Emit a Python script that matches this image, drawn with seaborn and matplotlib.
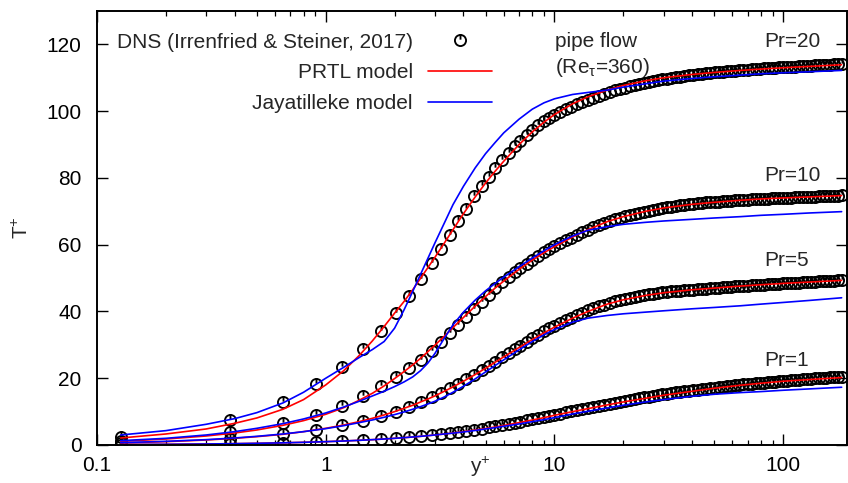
import numpy as np
import pandas as pd
import matplotlib
matplotlib.use("Agg")
import matplotlib.pyplot as plt
from matplotlib.path import Path
import seaborn as sns

# ---------------- data ----------------
YPLUS_DNS = [0.127, 0.38, 0.65, 0.91, 1.18, 1.46, 1.74, 2.02, 2.31, 2.6,
             2.9, 3.2, 3.5, 3.8, 4.1, 4.45, 4.8, 5.15, 5.5, 5.9,
             6.3, 6.7, 7.1, 7.55, 8.0, 8.5, 9.0, 9.5, 10.0, 10.6,
             11.2, 11.8, 12.5, 13.2, 14.0, 14.8, 15.6, 16.5, 17.4, 18.4,
             19.4, 20.4, 21.4, 22.4, 23.5, 24.6, 25.8, 27.0, 28.3, 29.6,
             31.0, 32.4, 33.9, 35.4, 37.0, 38.7, 40.4, 42.2, 44.1, 46.0,
             48.0, 50.1, 52.3, 54.5, 56.8, 59.2, 61.7, 64.3, 67.0, 69.8,
             72.7, 75.7, 78.8, 82.0, 85.4, 88.9, 92.5, 96.3, 100.2, 104.3,
             108.5, 112.9, 117.4, 122.1, 127.0, 132.1, 137.4, 142.9, 148.6, 154.5,
             160.6, 167.0, 173.6, 180.0]

DNS_PR20 = [2.5, 7.6, 12.9, 18.3, 23.4, 28.9, 34.1, 39.4, 44.6, 49.6,
            54.4, 58.8, 63.0, 67.0, 70.8, 74.5, 77.6, 80.4, 83.0, 85.5,
            87.6, 89.5, 91.2, 92.9, 94.4, 95.8, 97.0, 98.0, 98.9, 99.8,
            100.6, 101.3, 102.0, 102.7, 103.4, 104.0, 104.6, 105.2, 105.7, 106.2,
            106.6, 107.0, 107.4, 107.7, 108.0, 108.3, 108.6, 108.9, 109.2, 109.5,
            109.7, 109.9, 110.1, 110.3, 110.5, 110.7, 110.9, 111.0, 111.2, 111.3,
            111.5, 111.6, 111.7, 111.8, 111.9, 112.0, 112.1, 112.2, 112.3, 112.4,
            112.5, 112.6, 112.7, 112.8, 112.9, 112.9, 113.0, 113.1, 113.1, 113.2,
            113.3, 113.3, 113.4, 113.5, 113.5, 113.6, 113.7, 113.7, 113.8, 113.9,
            113.9, 114.0, 114.1, 114.1]

DNS_PR10 = [1.3, 3.8, 6.5, 9.1, 11.8, 14.8, 17.6, 20.3, 23.0, 25.6,
            28.3, 31.0, 33.6, 36.0, 38.2, 40.6, 42.8, 44.9, 47.0, 48.8,
            50.3, 51.7, 53.0, 54.3, 55.5, 56.7, 57.7, 58.6, 59.5, 60.4,
            61.3, 62.1, 62.9, 63.7, 64.5, 65.3, 65.9, 66.5, 67.1, 67.6,
            68.1, 68.5, 68.9, 69.2, 69.5, 69.8, 70.1, 70.4, 70.7, 71.0,
            71.2, 71.4, 71.6, 71.8, 72.0, 72.2, 72.3, 72.5, 72.6, 72.7,
            72.8, 72.9, 72.9, 73.0, 73.1, 73.2, 73.3, 73.3, 73.4, 73.5,
            73.6, 73.6, 73.7, 73.8, 73.8, 73.9, 73.9, 74.0, 74.0, 74.1,
            74.1, 74.2, 74.2, 74.3, 74.3, 74.4, 74.4, 74.5, 74.5, 74.6,
            74.6, 74.7, 74.7, 74.8]

DNS_PR5 = [0.64, 1.9, 3.25, 4.55, 5.9, 7.2, 8.6, 9.9, 11.5, 12.9,
           14.3, 15.7, 17.1, 18.4, 19.7, 21.1, 22.5, 23.8, 25.0, 26.3,
           27.5, 28.7, 29.8, 30.9, 32.0, 33.0, 34.0, 34.9, 35.7, 36.6,
           37.4, 38.1, 38.9, 39.6, 40.3, 40.9, 41.5, 42.0, 42.5, 43.0,
           43.4, 43.7, 44.0, 44.3, 44.6, 44.8, 45.1, 45.3, 45.5, 45.7,
           45.9, 46.0, 46.1, 46.2, 46.3, 46.4, 46.5, 46.6, 46.7, 46.8,
           46.9, 47.0, 47.1, 47.2, 47.3, 47.4, 47.5, 47.6, 47.6, 47.7,
           47.8, 47.9, 48.0, 48.0, 48.1, 48.2, 48.2, 48.3, 48.4, 48.4,
           48.5, 48.6, 48.6, 48.7, 48.8, 48.8, 48.9, 49.0, 49.0, 49.1,
           49.2, 49.2, 49.3, 49.4]

DNS_PR1 = [0.13, 0.38, 0.65, 0.91, 1.2, 1.5, 1.8, 2.1, 2.4, 2.7,
           3.0, 3.3, 3.6, 3.9, 4.2, 4.6, 4.9, 5.3, 5.6, 6.0,
           6.3, 6.7, 7.0, 7.4, 7.7, 8.1, 8.4, 8.8, 9.1, 9.4,
           9.8, 10.1, 10.4, 10.8, 11.1, 11.5, 11.8, 12.1, 12.4, 12.7,
           13.0, 13.3, 13.6, 13.8, 14.1, 14.3, 14.5, 14.8, 15.0, 15.2,
           15.4, 15.6, 15.8, 16.0, 16.1, 16.3, 16.5, 16.6, 16.8, 16.9,
           17.1, 17.2, 17.4, 17.5, 17.6, 17.8, 17.9, 18.0, 18.2, 18.3,
           18.4, 18.5, 18.6, 18.7, 18.8, 18.9, 19.0, 19.1, 19.2, 19.3,
           19.4, 19.5, 19.6, 19.7, 19.8, 19.9, 19.95, 20.0, 20.1, 20.2,
           20.25, 20.3, 20.4, 20.45]

YPLUS_MODEL = [0.127, 0.2, 0.3, 0.4, 0.5, 0.65, 0.8, 1.0, 1.2, 1.4,
               1.6, 1.8, 2.0, 2.2, 2.4, 2.6, 2.8, 3.0, 3.3, 3.6,
               4.0, 4.5, 5.0, 5.5, 6.0, 7.0, 8.0, 9.0, 10, 12,
               14, 17, 20, 25, 30, 40, 50, 65, 80, 100,
               130, 180]

PRTL_PR20 = [2.1, 3.3, 4.8, 6.5, 8.1, 10.7, 13.6, 18.0, 22.3, 26.8,
             31.2, 35.5, 39.5, 43.0, 46.5, 50.0, 53.2, 56.2, 60.5, 64.5,
             69.3, 74.3, 78.5, 82.0, 85.0, 90.0, 93.8, 96.7, 99.0, 102.2,
             104.3, 106.3, 107.7, 109.1, 110.0, 111.0, 111.6, 112.2, 112.6, 113.0,
             113.4, 113.9]
JAYA_PR20 = [3.0, 4.3, 6.2, 7.9, 9.7, 12.6, 15.8, 20.0, 23.3, 26.2,
             28.6, 31.0, 35.0, 40.5, 46.0, 51.2, 56.0, 60.5, 66.5, 72.0,
             77.5, 83.0, 87.3, 90.6, 93.5, 97.6, 100.6, 102.5, 103.7, 105.0,
             105.6, 106.3, 107.2, 108.2, 109.0, 109.8, 110.3, 110.8, 111.2, 111.5,
             111.8, 112.2]

PRTL_PR10 = [1.1, 1.8, 2.7, 3.6, 4.5, 5.9, 7.3, 9.2, 11.2, 13.4,
             15.5, 17.7, 19.9, 22.0, 24.0, 26.0, 28.0, 29.9, 32.6, 35.2,
             38.2, 41.6, 44.5, 47.0, 49.1, 52.6, 55.4, 57.6, 59.4, 62.3,
             64.5, 66.9, 68.4, 70.0, 71.0, 72.1, 72.7, 73.3, 73.7, 74.0,
             74.3, 74.7]
JAYA_PR10 = [1.3, 2.0, 3.0, 4.0, 5.0, 6.4, 7.8, 9.6, 11.4, 13.1,
             14.7, 16.1, 17.5, 18.9, 20.4, 22.3, 24.6, 27.4, 32.0, 36.0,
             39.8, 43.4, 46.2, 48.4, 50.3, 53.4, 56.0, 58.2, 60.0, 62.6,
             64.3, 65.4, 66.1, 66.7, 67.1, 67.6, 68.0, 68.4, 68.8, 69.1,
             69.5, 69.9]

PRTL_PR5 = [0.6, 1.0, 1.5, 2.0, 2.5, 3.2, 4.0, 5.0, 6.0, 7.0,
            8.0, 9.0, 10.0, 11.0, 11.9, 12.9, 13.8, 14.7, 16.1, 17.4,
            19.1, 21.1, 23.0, 24.8, 26.4, 29.2, 31.6, 33.6, 35.3, 38.0,
            40.0, 42.2, 43.5, 44.8, 45.6, 46.5, 47.0, 47.6, 48.0, 48.4,
            48.8, 49.3]
JAYA_PR5 = [0.7, 1.1, 1.6, 2.1, 2.6, 3.3, 4.0, 4.9, 5.8, 6.7,
            7.5, 8.3, 9.1, 9.9, 10.7, 11.5, 12.3, 13.1, 14.4, 15.8,
            17.6, 19.8, 21.9, 23.8, 25.5, 28.5, 31.0, 33.0, 34.6, 36.8,
            38.0, 38.8, 39.3, 39.8, 40.2, 40.8, 41.2, 41.7, 42.2, 42.7,
            43.3, 44.1]

PRTL_PR1 = [0.13, 0.2, 0.3, 0.4, 0.5, 0.65, 0.8, 1.0, 1.2, 1.4,
            1.6, 1.8, 2.0, 2.2, 2.4, 2.6, 2.8, 3.0, 3.3, 3.6,
            4.0, 4.5, 4.95, 5.4, 5.85, 6.7, 7.5, 8.2, 8.9, 10.0,
            10.9, 12.0, 12.9, 14.0, 14.9, 16.1, 17.0, 17.9, 18.5, 19.1,
            19.6, 20.2]
JAYA_PR1 = [0.13, 0.2, 0.3, 0.4, 0.5, 0.65, 0.8, 1.0, 1.2, 1.4,
            1.6, 1.8, 2.0, 2.2, 2.4, 2.6, 2.8, 3.0, 3.3, 3.55,
            3.9, 4.35, 4.8, 5.2, 5.6, 6.3, 7.0, 7.6, 8.2, 9.3,
            10.1, 11.1, 11.9, 12.9, 13.6, 14.6, 15.2, 15.7, 16.0, 16.4,
            16.8, 17.3]

PR_LABELS = ["Pr=20", "Pr=10", "Pr=5", "Pr=1"]
DNS_SERIES = [DNS_PR20, DNS_PR10, DNS_PR5, DNS_PR1]
PRTL_SERIES = [PRTL_PR20, PRTL_PR10, PRTL_PR5, PRTL_PR1]
JAYA_SERIES = [JAYA_PR20, JAYA_PR10, JAYA_PR5, JAYA_PR1]

LEGEND_LABELS = ["DNS (Irrenfried & Steiner, 2017)", "PRTL model", "Jayatilleke model"]

# ---------------- style ----------------
sns.set_theme(style="ticks")
plt.rcParams["font.family"] = ["Liberation Sans", "DejaVu Sans"]
plt.rcParams["mathtext.fontset"] = "custom"
plt.rcParams["mathtext.rm"] = "Liberation Sans"
plt.rcParams["mathtext.it"] = "Liberation Sans:italic"
plt.rcParams["mathtext.default"] = "regular"
FS = 15

# gnuplot-like open circle with a short vertical bar
circ = Path.unit_circle()
bar = Path([(0.0, 1.0), (0.0, 0.15)], [Path.MOVETO, Path.LINETO])
DNS_MARKER = Path.make_compound_path(circ, bar)

fig = plt.figure(figsize=(8.48, 4.83), dpi=100)
ax = fig.add_axes([97 / 848, 38 / 483, 750 / 848, 434 / 483])

handles = [None, None, None]
for i in range(4):
    n0 = len(ax.lines)
    sns.lineplot(x=YPLUS_DNS, y=DNS_SERIES[i], ax=ax, estimator=None, sort=False,
                 linestyle="none", marker=DNS_MARKER, markersize=8,
                 markerfacecolor="none", markeredgecolor="black",
                 markeredgewidth=1.35, color="black")
    if handles[0] is None:
        handles[0] = ax.lines[n0]
for i in range(4):
    n0 = len(ax.lines)
    sns.lineplot(x=YPLUS_MODEL, y=PRTL_SERIES[i], ax=ax, estimator=None, sort=False,
                 color="#ff0000", linewidth=1.2)
    if handles[1] is None:
        handles[1] = ax.lines[n0]
    n0 = len(ax.lines)
    sns.lineplot(x=YPLUS_MODEL, y=JAYA_SERIES[i], ax=ax, estimator=None, sort=False,
                 color="#0000ff", linewidth=1.2)
    if handles[2] is None:
        handles[2] = ax.lines[n0]

ax.set_xscale("log")
ax.set_xlim(0.1, 190)
ax.set_ylim(0, 130)
ax.set_xticks([0.1, 1, 10, 100])
ax.set_xticklabels(["0.1", "1", "10", "100"])
ax.set_yticks([0, 20, 40, 60, 80, 100, 120])

for s in ax.spines.values():
    s.set_visible(True)
    s.set_linewidth(1.4)
    s.set_color("black")

ax.tick_params(which="both", direction="in", top=True, right=True,
               colors="black", labelsize=FS)
ax.tick_params(which="major", length=8, width=1.0)
ax.tick_params(which="minor", length=3.6, width=0.9)
ax.tick_params(axis="x", which="major", pad=8)
ax.tick_params(axis="y", which="major", pad=11)
ax.tick_params(axis="y", which="minor", left=False, right=False)

ax.set_xlabel("y$^{+}$", fontsize=FS)
ax.xaxis.set_label_coords(0.511, -0.022)
ax.set_ylabel("T$^{+}$", fontsize=FS)
ax.yaxis.set_label_coords(-0.086, 0.5)

ax.legend(handles=handles, labels=LEGEND_LABELS, loc="upper right",
          bbox_to_anchor=(0.527, 0.95), frameon=False, markerfirst=False,
          handlelength=3.1, handletextpad=0.72, labelspacing=0.56,
          borderpad=0, borderaxespad=0, fontsize=FS)

ax.text(0.611, 0.929, "pipe flow", transform=ax.transAxes, fontsize=FS,
        ha="left", va="center")
ax.text(0.611, 0.869, "(Re$_{τ}$=360)", transform=ax.transAxes, fontsize=FS,
        ha="left", va="center")

PR_LABEL_Y = [0.929, 0.620, 0.424, 0.194]
for lab, yy in zip(PR_LABELS, PR_LABEL_Y):
    ax.text(0.889, yy, lab, transform=ax.transAxes, fontsize=FS,
            ha="left", va="center")

fig.savefig("out.png", dpi=100)
